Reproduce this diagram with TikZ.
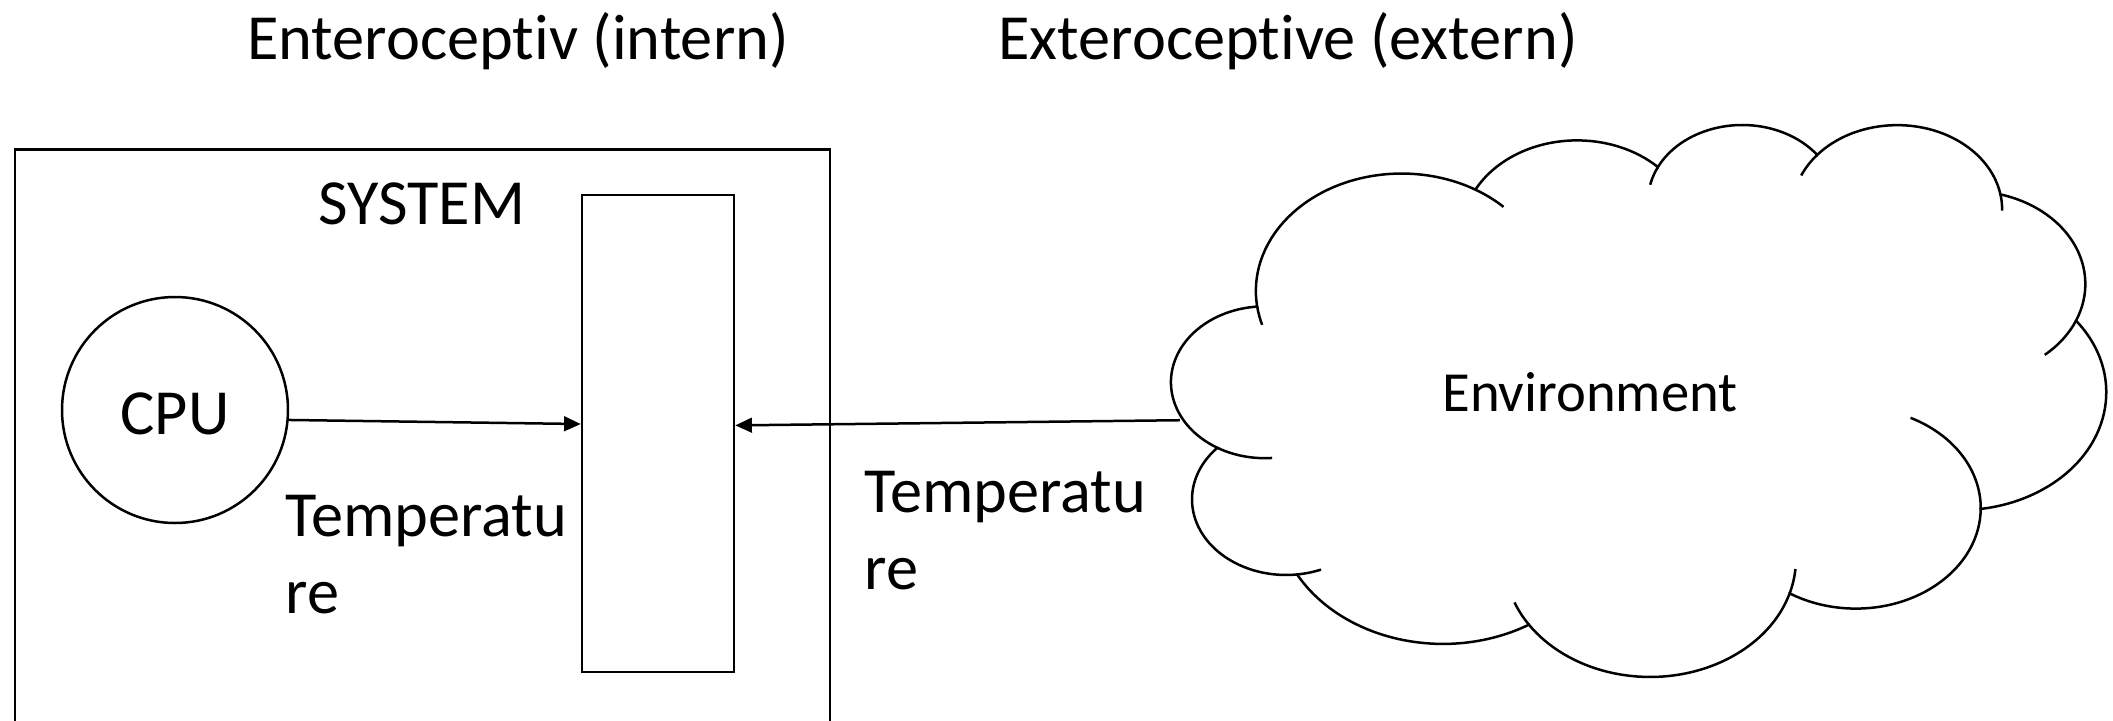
\documentclass[tikz,border=0pt]{standalone}
\usepackage{fontspec}
\setmainfont{Carlito}[Ligatures=NoCommon]
\usepackage{tikz}
\usetikzlibrary{arrows.meta, positioning, calc}
\tikzset{
  snbox/.style={rectangle, draw=black, line width=0.75pt, fill=white, inner sep=0pt},
  sntext/.style={inner sep=0pt, font=\fontsize{19.3}{23}\selectfont, align=left},
  snflow/.style={-{Triangle[length=5pt, width=4.4pt]}, line width=0.75pt},
  sncloud/.style={line width=0.75pt},
}

\begin{document}
\begin{tikzpicture}[x=0.3pt, y=0.3pt]
  \clip (0,0) rectangle (2113,720);
  % headings
  \node[sntext, anchor=base](intern) at (518,661){Enteroceptiv (intern)};
  \node[sntext, anchor=base](extern) at (1288,661){Exteroceptive (extern)};
  % system box, cpu and sensor
  \node[snbox, anchor=north west, minimum width=244.65pt, minimum height=180pt](system) at (13.5,572){};
  \node[sntext, anchor=base](systitle) at (422,496){SYSTEM};
  \node[snbox, circle, minimum size=67.8pt, font=\fontsize{19.3}{23}\selectfont,
        text height=14.6pt, text depth=0pt](cpu) at (175,310){CPU};
  \node[snbox, minimum width=45.6pt, minimum height=143.1pt](sensor) at (658,286.5){};
  \node[sntext, anchor=base west](templ) at (285,107){Temperatu\\re};
  \node[sntext, anchor=base west](tempr) at (864,131){Temperatu\\re};
  % environment cloud, one elliptic arc per puff
  \begin{scope}[shift={(1173,596.8)}, x=0.64785pt, y=-0.38313pt]
    \draw[sncloud] (39,143.7)
      arc[start angle=-187.746, delta angle=128.109, x radius=67.53, y radius=91.90]
      arc[start angle=-152.018, delta angle=106.562, x radius=53.33, y radius=72.67]
      arc[start angle=-153.496, delta angle=116.169, x radius=43.65, y radius=59.45]
      arc[start angle=-139.709, delta angle=129.497, x radius=48.57, y radius=65.95]
      arc[start angle=-74.768, delta angle=97.979, x radius=53.33, y radius=72.73]
      arc[start angle=-37.529, delta angle=119.391, x radius=67.75, y radius=92.20]
      arc[start angle=0.4596, delta angle=121.512, x radius=57.85, y radius=78.67]
      arc[start angle=16.844, delta angle=129.384, x radius=67.52, y radius=92.15]
      arc[start angle=58.984, delta angle=92.066, x radius=77.20, y radius=105.43]
      arc[start angle=83.306, delta angle=139.767, x radius=43.60, y radius=59.18]
      arc[start angle=120.349, delta angle=143.764, x radius=43.45, y radius=59.45]
      -- cycle;
    % creases where the puffs overlap
    \draw[sncloud] (105.913,131.314) ++(163.19:67.53 and 91.90)
      arc[start angle=163.19, end angle=172.254, x radius=67.53, y radius=91.90];
    \draw[sncloud] (52.388,294.564) ++(68.238:43.60 and 59.18)
      arc[start angle=68.238, end angle=83.306, x radius=43.60, y radius=59.18];
    \draw[sncloud] (220.939,341.439) ++(146.228:67.52 and 92.15)
      arc[start angle=146.228, end angle=158.47, x radius=67.52, y radius=92.15];
    \draw[sncloud] (220.939,341.439) ++(4.737:67.52 and 92.15)
      arc[start angle=4.737, end angle=16.844, x radius=67.52, y radius=92.15];
    \draw[sncloud] (316.194,301.401) ++(-64.026:57.85 and 78.67)
      arc[start angle=-64.026, end angle=0.4596, x radius=57.85, y radius=78.67];
    \draw[sncloud] (369.169,125.933) ++(23.211:53.33 and 72.73)
      arc[start angle=23.211, end angle=49.65, x radius=53.33, y radius=72.73];
    \draw[sncloud] (335.378,67.449) ++(-10.212:48.57 and 65.95)
      arc[start angle=-10.212, end angle=0.821, x radius=48.57, y radius=65.95];
    \draw[sncloud] (335.378,67.449) ++(-156.288:48.57 and 65.95)
      arc[start angle=-156.288, end angle=-139.709, x radius=48.57, y radius=65.95];
    \draw[sncloud] (263.618,60.855) ++(-167.726:43.65 and 59.45)
      arc[start angle=-167.726, end angle=-153.496, x radius=43.65, y radius=59.45];
    \draw[sncloud] (105.913,131.314) ++(-59.637:67.53 and 91.90)
      arc[start angle=-59.637, end angle=-45.73, x radius=67.53, y radius=91.90];
    \draw[sncloud] (42.494,202.847) ++(85.543:43.45 and 59.45)
      arc[start angle=85.543, end angle=120.349, x radius=43.45, y radius=59.45];
    \coordinate (cloudw) at (3.2,232.572);
  \end{scope}
  \node[sntext, anchor=base, font=\fontsize{17}{20}\selectfont](env) at (1590,309){Environment};
  % signal flow into the sensor
  \draw[snflow](cpu.-5)--(sensor.173);
  \draw[snflow](cloudw)--(sensor.6);
\end{tikzpicture}
\end{document}
